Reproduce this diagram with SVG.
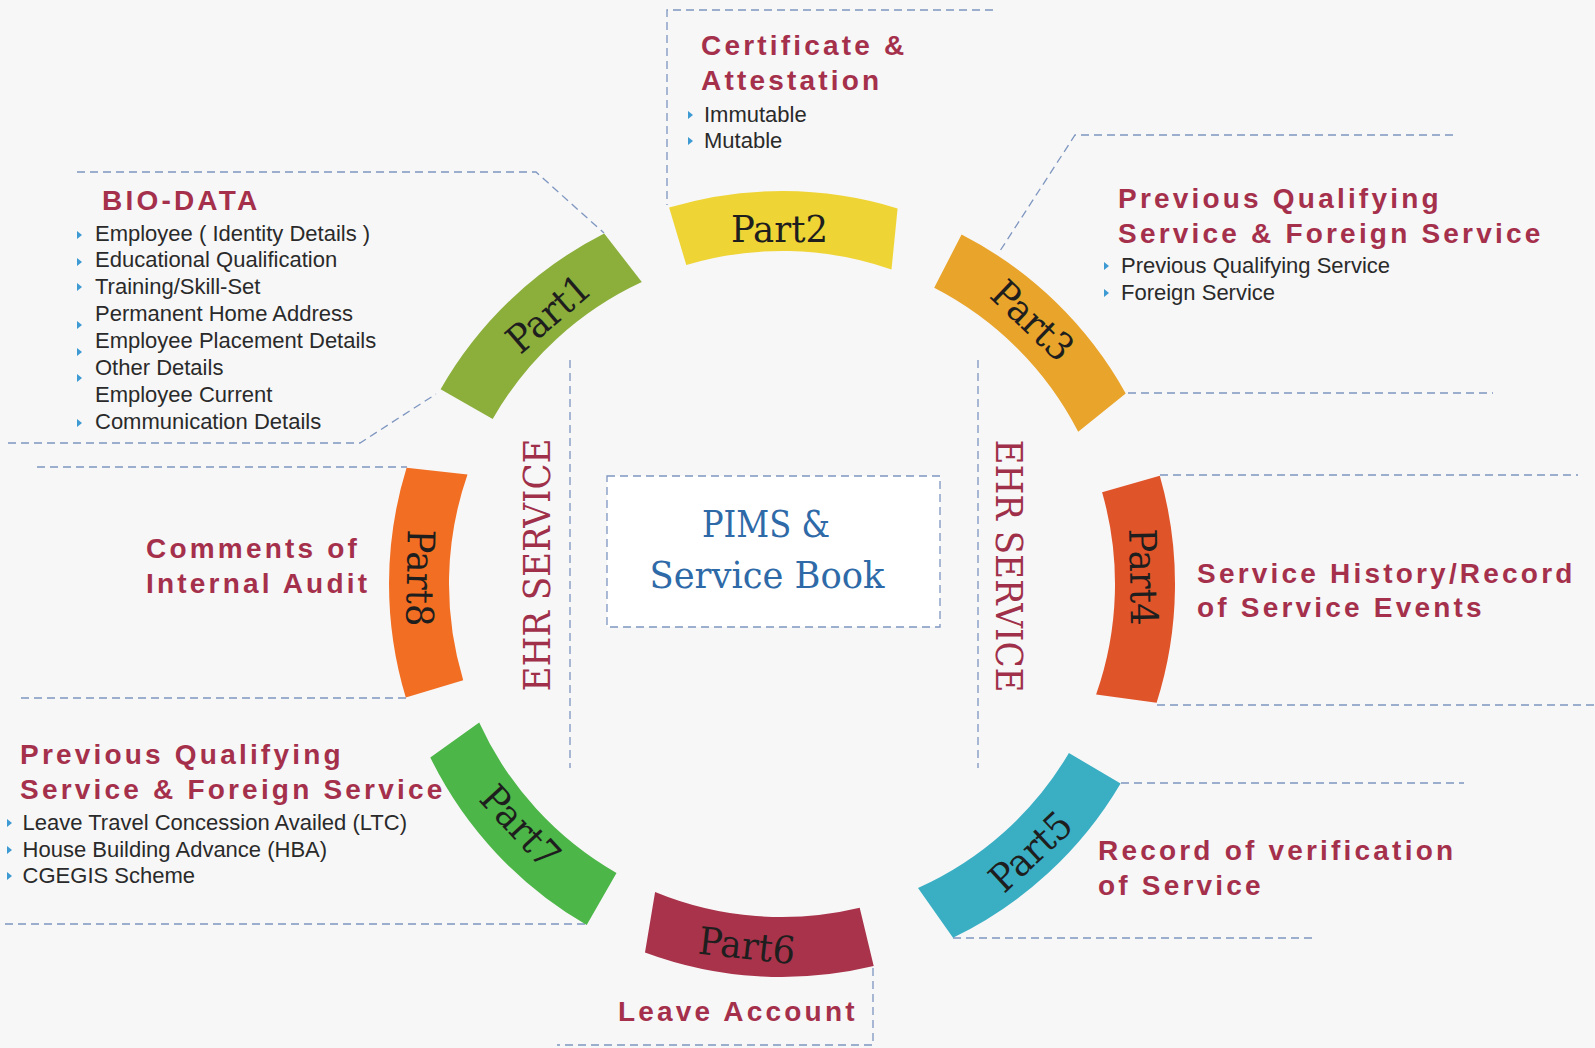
<svg xmlns="http://www.w3.org/2000/svg" xmlns:xlink="http://www.w3.org/1999/xlink" width="1595" height="1048" viewBox="0 0 1595 1048">
<style>
.dash{fill:none;stroke:#7E96C0;stroke-width:1.3;stroke-dasharray:8 5}
.head{font-family:"Liberation Sans",Arial,sans-serif;font-weight:bold;font-size:28px;letter-spacing:3.2px;fill:#A5304C}
.item{font-family:"Liberation Sans",Arial,sans-serif;font-size:22px;fill:#2A2A2A}
.plab{font-family:"DejaVu Serif","Liberation Serif",serif;font-stretch:condensed;font-size:38px;fill:#1E1E1E}
.ehr{font-family:"DejaVu Serif","Liberation Serif",serif;font-stretch:condensed;font-size:37px;fill:#A0304A}
.pims{font-family:"DejaVu Serif","Liberation Serif",serif;font-stretch:condensed;font-size:38px;fill:#2F6AA8}
.bul{fill:#3E9AD3}
</style>
<defs>
<path id="bul" d="M-2,-4 L3,0 L-2,4 Z"/>
</defs>
<rect width="1595" height="1048" fill="#F7F7F7"/>

<g id="connectors">
<polyline class="dash" points="77,172 536,172 604,233"/>
<polyline class="dash" points="8,443 360,443 436,394"/>
<polyline class="dash" points="993,10 667,10 667,205"/>
<polyline class="dash" points="1453,135 1075,135 998,254"/>
<line class="dash" x1="1128" y1="393" x2="1493" y2="393"/>
<line class="dash" x1="1160" y1="475" x2="1578" y2="475"/>
<line class="dash" x1="1157" y1="705" x2="1595" y2="705"/>
<line class="dash" x1="1121" y1="783" x2="1464" y2="783"/>
<line class="dash" x1="953" y1="938" x2="1313" y2="938"/>
<polyline class="dash" points="873,968 873,1045 557,1045"/>
<line class="dash" x1="5" y1="924" x2="588" y2="924"/>
<line class="dash" x1="37" y1="467" x2="407" y2="467"/>
<line class="dash" x1="21" y1="698" x2="406" y2="698"/>
<line class="dash" x1="570" y1="360" x2="570" y2="768"/>
<line class="dash" x1="978" y1="360" x2="978" y2="768"/>
</g>

<g id="center">
<rect class="dash" x="607" y="476" width="333" height="151" style="fill:#FFFFFF"/>
<text class="pims" x="766" y="537" text-anchor="middle" textLength="128" lengthAdjust="spacingAndGlyphs">PIMS &amp;</text>
<text class="pims" x="767" y="588" text-anchor="middle" textLength="235" lengthAdjust="spacingAndGlyphs">Service Book</text>
</g>

<g id="ehr-left" transform="translate(536,565) rotate(-90)">
<text class="ehr" x="0" y="13.5" text-anchor="middle" textLength="253" lengthAdjust="spacingAndGlyphs">EHR SERVICE</text>
</g>
<g id="ehr-right" transform="translate(1009,566) rotate(90)">
<text class="ehr" x="0" y="13.5" text-anchor="middle" textLength="253" lengthAdjust="spacingAndGlyphs">EHR SERVICE</text>
</g>

<g id="part1">
<path fill="#8CAF3C" d="M440.6,389.3 A393,393 0 0 1 604.2,233.5 L641.8,282.0 A333,333 0 0 0 492.7,419.0 Z"/>
<g transform="translate(548,313) rotate(-40.7)"><text class="plab" x="0" y="14" text-anchor="middle" textLength="97" lengthAdjust="spacingAndGlyphs">Part1</text></g>
</g>
<g id="part2">
<path fill="#EFD436" d="M669.1,207.6 A393,393 0 0 1 897.6,208.4 L891.5,269.5 A333,333 0 0 0 686.3,265.0 Z"/>
<g transform="translate(779.5,227.5) rotate(0)"><text class="plab" x="0" y="14" text-anchor="middle" textLength="97" lengthAdjust="spacingAndGlyphs">Part2</text></g>
</g>
<g id="part3">
<path fill="#E9A42B" d="M961.6,234.5 A393,393 0 0 1 1125.7,393.5 L1078.2,431.8 A333,333 0 0 0 934.2,287.8 Z"/>
<g transform="translate(1033,320) rotate(43.6)"><text class="plab" x="0" y="14" text-anchor="middle" textLength="97" lengthAdjust="spacingAndGlyphs">Part3</text></g>
</g>
<g id="part4">
<path fill="#E0542A" d="M1159.8,475.7 A393,393 0 0 1 1156.6,702.8 L1096.1,694.6 A333,333 0 0 0 1102.1,492.2 Z"/>
<g transform="translate(1144,577) rotate(88.9)"><text class="plab" x="0" y="14" text-anchor="middle" textLength="97" lengthAdjust="spacingAndGlyphs">Part4</text></g>
</g>
<g id="part5">
<path fill="#3AAFC4" d="M1120.6,783.5 A393,393 0 0 1 953.0,937.8 L918.0,888.0 A333,333 0 0 0 1068.9,753.0 Z"/>
<g transform="translate(1030,851) rotate(-42.9)"><text class="plab" x="0" y="14" text-anchor="middle" textLength="97" lengthAdjust="spacingAndGlyphs">Part5</text></g>
</g>
<g id="part6">
<path fill="#A9334B" d="M873.7,966.1 A393,393 0 0 1 645.0,952.4 L655.1,891.9 A333,333 0 0 0 859.7,907.8 Z"/>
<g transform="translate(747,945) rotate(6.5)"><text class="plab" x="0" y="14" text-anchor="middle" textLength="97" lengthAdjust="spacingAndGlyphs">Part6</text></g>
</g>
<g id="part7">
<path fill="#4DB648" d="M586.7,925.0 A393,393 0 0 1 430.3,757.5 L479.2,722.6 A333,333 0 0 0 616.5,873.0 Z"/>
<g transform="translate(521,826) rotate(47.2)"><text class="plab" x="0" y="14" text-anchor="middle" textLength="97" lengthAdjust="spacingAndGlyphs">Part7</text></g>
</g>
<g id="part8">
<path fill="#F26E22" d="M405.8,697.6 A393,393 0 0 1 406.6,467.8 L467.5,474.5 A333,333 0 0 0 463.2,680.2 Z"/>
<g transform="translate(421,578) rotate(91)"><text class="plab" x="0" y="14" text-anchor="middle" textLength="97" lengthAdjust="spacingAndGlyphs">Part8</text></g>
</g>

<g id="info-part1">
<text class="head" x="102" y="210">BIO-DATA</text>
<text class="item" x="95" y="241">Employee ( Identity Details )</text>
<text class="item" x="95" y="267">Educational Qualification</text>
<text class="item" x="95" y="294">Training/Skill-Set</text>
<text class="item" x="95" y="321">Permanent Home Address</text>
<text class="item" x="95" y="348">Employee Placement Details</text>
<text class="item" x="95" y="375">Other Details</text>
<text class="item" x="95" y="402">Employee Current</text>
<text class="item" x="95" y="429">Communication Details</text>
<use href="#bul" class="bul" x="79" y="235"/>
<use href="#bul" class="bul" x="79" y="262"/>
<use href="#bul" class="bul" x="79" y="287"/>
<use href="#bul" class="bul" x="79" y="325"/>
<use href="#bul" class="bul" x="79" y="352"/>
<use href="#bul" class="bul" x="79" y="378"/>
<use href="#bul" class="bul" x="79" y="423"/>
</g>

<g id="info-part2">
<text class="head" x="701" y="55">Certificate &amp;</text>
<text class="head" x="701" y="90">Attestation</text>
<text class="item" x="704" y="122">Immutable</text>
<text class="item" x="704" y="148">Mutable</text>
<use href="#bul" class="bul" x="690" y="115"/>
<use href="#bul" class="bul" x="690" y="141"/>
</g>

<g id="info-part3">
<text class="head" x="1118" y="207.5">Previous Qualifying</text>
<text class="head" x="1118" y="243">Service &amp; Foreign Service</text>
<text class="item" x="1121" y="273">Previous Qualifying Service</text>
<text class="item" x="1121" y="300">Foreign Service</text>
<use href="#bul" class="bul" x="1106" y="266"/>
<use href="#bul" class="bul" x="1106" y="293"/>
</g>

<g id="info-part4">
<text class="head" x="1197" y="583">Service History/Record</text>
<text class="head" x="1197" y="617">of Service Events</text>
</g>

<g id="info-part5">
<text class="head" x="1098" y="860">Record of verification</text>
<text class="head" x="1098" y="895">of Service</text>
</g>

<g id="info-part6">
<text class="head" x="618" y="1021">Leave Account</text>
</g>

<g id="info-part7">
<text class="head" x="20" y="764">Previous Qualifying</text>
<text class="head" x="20" y="799">Service &amp; Foreign Service</text>
<text class="item" x="22.6" y="830">Leave Travel Concession Availed (LTC)</text>
<text class="item" x="22.6" y="857">House Building Advance (HBA)</text>
<text class="item" x="22.6" y="883">CGEGIS Scheme</text>
<use href="#bul" class="bul" x="9" y="823"/>
<use href="#bul" class="bul" x="9" y="850"/>
<use href="#bul" class="bul" x="9" y="876"/>
</g>

<g id="info-part8">
<text class="head" x="146" y="558">Comments of</text>
<text class="head" x="146" y="593">Internal Audit</text>
</g>
</svg>
